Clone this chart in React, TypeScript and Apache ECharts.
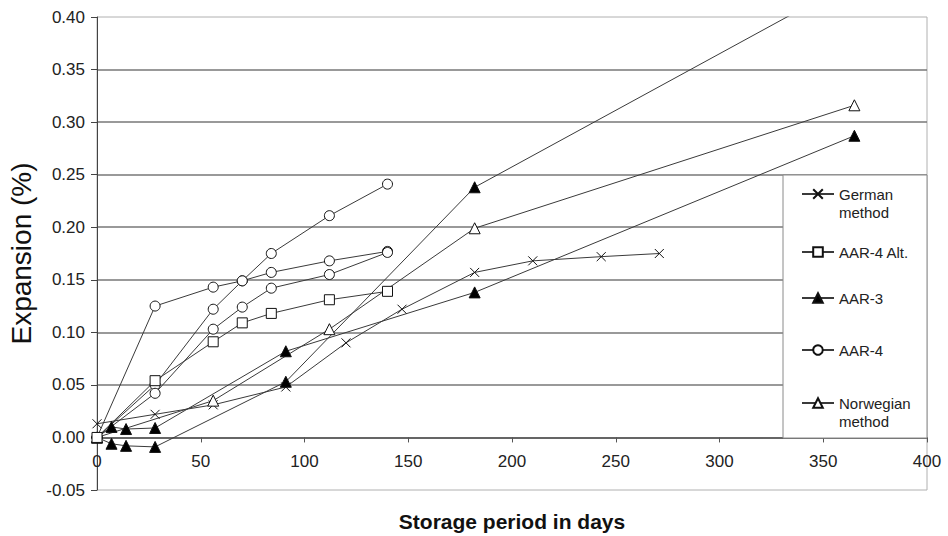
import React, { useEffect, useRef } from "react";
import * as echarts from "echarts";

// ---- Data ----
const germanDays = [0, 28, 56, 91, 120, 147, 182, 210, 243, 271];
const germanVals = [0.013, 0.022, 0.031, 0.048, 0.09, 0.122, 0.157, 0.168, 0.172, 0.175];

const aar4AltDays = [0, 28, 56, 70, 84, 112, 140];
const aar4AltVals = [0, 0.054, 0.091, 0.109, 0.118, 0.131, 0.139];

const aar3Days = [0, 7, 14, 28, 91, 182, 365];
const aar3ValsA = [0, 0.01, 0.008, 0.009, 0.082, 0.138, 0.287];
const aar3ValsB = [0, -0.006, -0.008, -0.009, 0.053, 0.238, 0.435];

const aar4Days = [0, 28, 56, 70, 84, 112, 140];
const aar4ValsA = [0, 0.125, 0.143, 0.149, 0.157, 0.168, 0.177];
const aar4ValsB = [0, 0.05, 0.122, 0.149, 0.175, 0.211, 0.241];
const aar4ValsC = [0, 0.042, 0.103, 0.124, 0.142, 0.155, 0.176];

const norDays = [0, 56, 112, 182, 365];
const norVals = [0, 0.035, 0.103, 0.199, 0.316];

const legendNames = ["German method", "AAR-4 Alt.", "AAR-3", "AAR-4", "Norwegian method"];
const legendLabels = ["\nGerman\nmethod", "AAR-4 Alt.", "AAR-3", "AAR-4", "\nNorwegian\nmethod"];

const Y_MIN = -0.05;
const Y_MAX = 0.4;

const zip = (xs: number[], ys: number[]) => xs.map((x, i) => [x, ys[i]]);

const LINE = "#3a3a3a";
const FONT = "'Liberation Sans', Arial, sans-serif";
const crossSymbol = "path://M0,0L10,10M10,0L0,10";

const W = 948;
const H = 536;
const G = { left: 97, right: 21, top: 17, bottom: 46 };

function mkSeries(name: string, data: number[][], symbol: string, fill: string, size: number) {
  return {
    type: "line",
    name,
    data,
    symbol,
    symbolSize: size,
    showSymbol: true,
    showAllSymbol: true,
    clip: true,
    lineStyle: { color: LINE, width: 1 },
    itemStyle: { color: fill, borderColor: "#111", borderWidth: 1 },
    emphasis: { disabled: true },
  };
}

export default function App() {
  const ref = useRef<HTMLDivElement>(null);

  useEffect(() => {
    if (!ref.current) return;
    const chart = echarts.init(ref.current, undefined, { renderer: "svg" });

    const legendTops = [167, 243, 289, 341, 376];

    const legends = legendNames.map((n, i) => ({
      data: [n],
      left: 801,
      top: legendTops[i],
      orient: "vertical",
      padding: 0,
      itemWidth: 32,
      itemHeight: 12,
      selectedMode: false,
      z: 10,
      formatter: () => legendLabels[i],
      textStyle: {
        fontFamily: FONT,
        fontSize: 15,
        color: "#222",
        lineHeight: 18,
      },
    }));

    // put the horizontal axis on the zero line (Excel "crosses at 0")
    const gridH = H - G.top - G.bottom;
    const xAxisOffset = -gridH * ((0 - Y_MIN) / (Y_MAX - Y_MIN));

    const option: any = {
      animation: false,
      backgroundColor: "#fff",
      textStyle: { fontFamily: FONT },
      grid: {
        left: G.left,
        right: G.right,
        top: G.top,
        bottom: G.bottom,
        containLabel: false,
        outerBoundsMode: "none",
        show: true,
        borderColor: "#b0b0b0",
        borderWidth: 1,
        backgroundColor: "transparent",
      },
      legend: legends,
      xAxis: {
        type: "value",
        min: 0,
        max: 400,
        interval: 50,
        position: "bottom",
        offset: xAxisOffset,
        axisLine: { show: true, onZero: false, lineStyle: { color: "#555", width: 1.5 } },
        axisTick: { show: true, length: 5, lineStyle: { color: "#555" } },
        axisLabel: { fontSize: 17, color: "#222", margin: 16, fontFamily: FONT },
        splitLine: { show: false },
        name: "Storage period in days",
        nameLocation: "middle",
        nameGap: 74,
        nameTextStyle: { fontSize: 21, fontWeight: "bold", color: "#111", fontFamily: FONT },
      },
      yAxis: {
        type: "value",
        min: Y_MIN,
        max: Y_MAX,
        interval: 0.05,
        axisLine: { show: true, onZero: false, lineStyle: { color: "#444", width: 1 } },
        axisTick: { show: true, length: 6, lineStyle: { color: "#444" } },
        axisLabel: {
          fontSize: 17,
          color: "#222",
          margin: 12,
          fontFamily: FONT,
          formatter: (v: number) => v.toFixed(2),
        },
        splitLine: {
          show: true,
          showMinLine: false,
          showMaxLine: false,
          lineStyle: { color: "#777", width: 1.6 },
        },
        name: "Expansion (%)",
        nameLocation: "middle",
        nameGap: 51,
        nameTextStyle: { fontSize: 28, color: "#111", fontFamily: FONT },
      },
      graphic: [
        {
          type: "rect",
          z: 3,
          shape: { x: 783, y: 175, width: 144, height: 263 },
          style: { fill: "#fff", stroke: "#8a8a8a", lineWidth: 1 },
        },
      ],
      series: [
        mkSeries("German method", zip(germanDays, germanVals), crossSymbol, LINE, 9),
        mkSeries("AAR-3", zip(aar3Days, aar3ValsA), "triangle", "#000", 11),
        mkSeries("AAR-3", zip(aar3Days, aar3ValsB), "triangle", "#000", 11),
        mkSeries("Norwegian method", zip(norDays, norVals), "triangle", "#fff", 11),
        mkSeries("AAR-4", zip(aar4Days, aar4ValsA), "circle", "#fff", 10),
        mkSeries("AAR-4", zip(aar4Days, aar4ValsB), "circle", "#fff", 10),
        mkSeries("AAR-4", zip(aar4Days, aar4ValsC), "circle", "#fff", 10),
        mkSeries("AAR-4 Alt.", zip(aar4AltDays, aar4AltVals), "rect", "#fff", 10),
      ],
    };

    chart.setOption(option);
    return () => chart.dispose();
  }, []);

  return <div ref={ref} style={{ width: W, height: H, position: "absolute", left: 0, top: 0 }} />;
}
